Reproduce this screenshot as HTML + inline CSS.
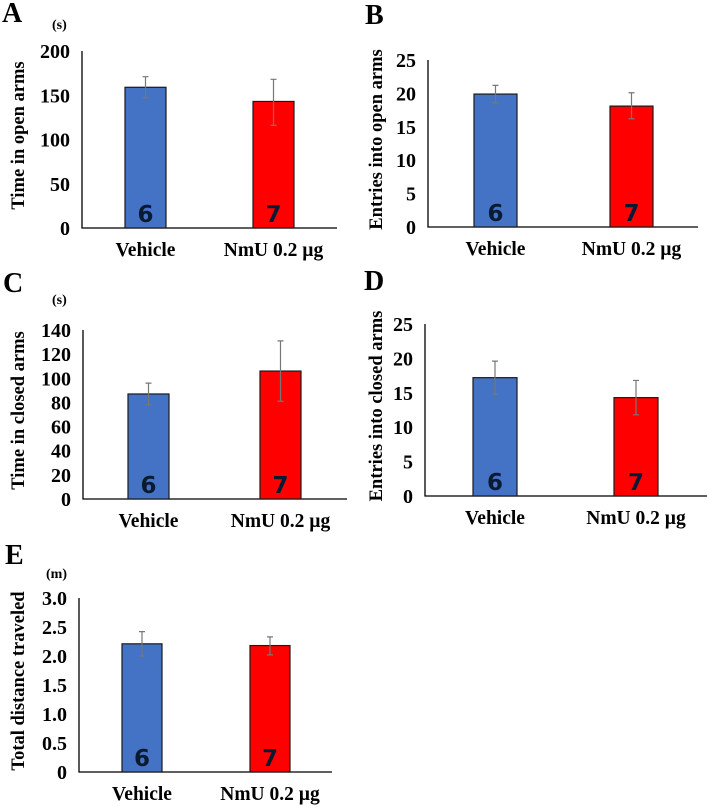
<!DOCTYPE html>
<html><head><meta charset="utf-8"><style>
body{margin:0;background:#fff}
svg{display:block}
text{font-family:"Liberation Serif",serif;font-weight:bold;fill:#000}
.n{font-family:"DejaVu Sans","Liberation Sans",sans-serif;fill:#0b1a33}
</style></head><body>
<svg id="fig" width="709" height="810" viewBox="0 0 709 810"></svg>
<script>
const categories=["Vehicle","NmU 0.2 \u00b5g"];
const nLabels=["6","7"];
const aValues=[159,143]; const aErrLo=[147,116]; const aErrHi=[171,168];
const aTicks=["0","50","100","150","200"];
const bValues=[19.9,18.1]; const bErrLo=[18.6,16.2]; const bErrHi=[21.2,20.1];
const bTicks=["0","5","10","15","20","25"];
const cValues=[87,106]; const cErrLo=[78,81]; const cErrHi=[96,131];
const cTicks=["0","20","40","60","80","100","120","140"];
const dValues=[17.2,14.3]; const dErrLo=[14.8,11.8]; const dErrHi=[19.6,16.8];
const dTicks=["0","5","10","15","20","25"];
const eValues=[2.21,2.18]; const eErrLo=[2.0,2.02]; const eErrHi=[2.42,2.33];
const eTicks=["0","0.5","1.0","1.5","2.0","2.5","3.0"];

const svg=document.getElementById('fig');
const NS="http://www.w3.org/2000/svg";
function mk(tag,attrs,parent,txt){const e=document.createElementNS(NS,tag);for(const k in attrs)e.setAttribute(k,attrs[k]);if(txt!==undefined)e.textContent=txt;parent.appendChild(e);return e;}

function panel(p){
  const g=mk('g',{},svg);
  
  
  const max=parseFloat(p.ticks[p.ticks.length-1]);
  const y=v=>p.y1-(v/max)*(p.y1-p.y0);
  const lt=mk('text',{x:p.lx,y:p.ly,'font-size':28},g,p.id);
   
  if(p.unit){const u=mk('text',{x:p.ux,y:p.uy,'font-size':14},g,p.unit);
     }
  const yt=mk('text',{x:0,y:0,'font-size':18.5,'text-anchor':'middle',transform:`translate(${p.tx},${(p.y0+p.y1)/2-4}) rotate(-90)`},g,p.title);
   
  p.ticks.forEach(t=>{const e=mk('text',{x:p.x0-12,y:y(parseFloat(t))+7,'font-size':20,'text-anchor':'end'},g,t);
     });
  const ax=mk('path',{d:`M${p.x0},${p.y0}V${p.y1}H${p.x1}`,stroke:'#000','stroke-width':1.3,fill:'none'},g);
   
  const colors=['#4472c4','#ff0000'];
  p.vals.forEach((v,i)=>{
    const bx=p.bx[i], bw=p.bw;
    const r=mk('rect',{x:bx,y:y(v),width:bw,height:p.y1-y(v),fill:colors[i],stroke:'#1a1a1a','stroke-width':1.2},g);
     
    const cx=bx+bw/2;
    const eb=mk('path',{d:`M${cx},${y(p.lo[i])}V${y(p.hi[i])}M${cx-3},${y(p.lo[i])}H${cx+3}M${cx-3},${y(p.hi[i])}H${cx+3}`,stroke:'#777','stroke-width':1.2,fill:'none'},g);
     
    const nt=mk('text',{x:cx,y:p.y1-6,'font-size':23,'text-anchor':'middle',class:'n'},g,nLabels[i]);
     
    const cl=mk('text',{x:cx,y:p.y1+28,'font-size':19.5,'text-anchor':'middle'},g,categories[i]);
     
  });
}
panel({id:'A',lx:2,ly:22,unit:'(s)',ux:52,uy:29,title:'Time in open arms',tx:24,x0:82,x1:337,y0:51,y1:228,bx:[125,253],bw:41,vals:aValues,lo:aErrLo,hi:aErrHi,ticks:aTicks});
panel({id:'B',lx:365,ly:24,title:'Entries into open arms',tx:382,x0:428,x1:698,y0:60,y1:227,bx:[474,610],bw:43,vals:bValues,lo:bErrLo,hi:bErrHi,ticks:bTicks});
panel({id:'C',lx:3,ly:292,unit:'(s)',ux:52,uy:304,title:'Time in closed arms',tx:24,x0:83,x1:347,y0:330,y1:499,bx:[128,260],bw:41,vals:cValues,lo:cErrLo,hi:cErrHi,ticks:cTicks});
panel({id:'D',lx:364,ly:290,title:'Entries into closed arms',tx:382,x0:425,x1:707,y0:324,y1:496,bx:[473,614],bw:44,vals:dValues,lo:dErrLo,hi:dErrHi,ticks:dTicks});
panel({id:'E',lx:5,ly:564,unit:'(m)',ux:46,uy:578,title:'Total distance traveled',tx:24,x0:79,x1:332,y0:598,y1:772,bx:[122,250],bw:40,vals:eValues,lo:eErrLo,hi:eErrHi,ticks:eTicks});
</script>
</body></html>
